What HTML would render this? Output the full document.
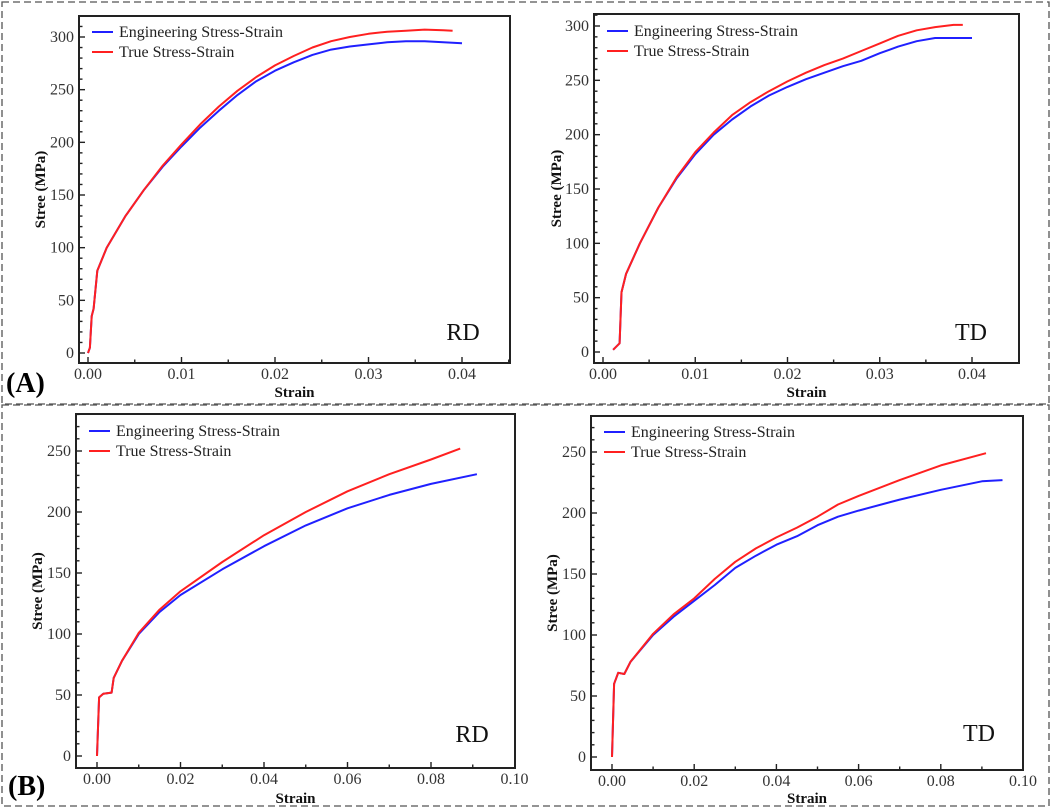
<!DOCTYPE html>
<html><head><meta charset="utf-8"><style>
html,body{margin:0;padding:0;background:#fff;}
svg{display:block;font-family:"Liberation Serif",serif;}
</style></head><body>
<svg id="fig" width="1052" height="809" viewBox="0 0 1052 809" xmlns="http://www.w3.org/2000/svg">
<rect x="2" y="2" width="1047" height="402" fill="none" stroke="#555" stroke-width="1.3" stroke-dasharray="7,4"/>
<rect x="2" y="405" width="1047" height="401" fill="none" stroke="#555" stroke-width="1.3" stroke-dasharray="7,4"/>
<text x="6" y="392" font-size="28" font-weight="bold">(A)</text>
<text x="8" y="795" font-size="28" font-weight="bold">(B)</text>
<g id="plots"></g>
</svg>
<script>
// Panel A-left (RD)
const aRdEngX = [0,0.0002,0.0004,0.0006,0.001,0.002,0.004,0.006,0.008,0.01,0.012,0.014,0.016,0.018,0.02,0.022,0.024,0.026,0.028,0.03,0.032,0.034,0.036,0.038,0.04];
const aRdEngY = [0,5,35,42,78,100,130,155,177,196,214,230,245,258,268,276,283,288,291,293,295,296,296,295,294];
const aRdTrueX = [0,0.0002,0.0004,0.0006,0.001,0.002,0.004,0.006,0.008,0.01,0.012,0.014,0.016,0.018,0.02,0.022,0.024,0.026,0.028,0.03,0.032,0.034,0.036,0.038,0.039];
const aRdTrueY = [0,5,35,42,78,100,130,155,178,198,217,234,249,262,273,282,290,296,300,303,305,306,307,306.5,306];
// Panel A-right (TD)
const aTdEngX = [0.0011,0.0018,0.002,0.0025,0.004,0.006,0.008,0.01,0.012,0.014,0.016,0.018,0.02,0.022,0.024,0.026,0.028,0.03,0.032,0.034,0.036,0.038,0.04];
const aTdEngY = [2,8,55,72,100,133,160,182,200,214,226,236,244,251,257,263,268,275,281,286,289,289,289];
const aTdTrueX = [0.0011,0.0018,0.002,0.0025,0.004,0.006,0.008,0.01,0.012,0.014,0.016,0.018,0.02,0.022,0.024,0.026,0.028,0.03,0.032,0.034,0.036,0.038,0.039];
const aTdTrueY = [2,8,55,72,100,133,161,184,202,218,230,240,249,257,264,270,277,284,291,296,299,301,301];
// Panel B-left (RD)
const bRdEngX = [0,0.0005,0.0015,0.0035,0.004,0.006,0.01,0.015,0.02,0.03,0.04,0.05,0.06,0.07,0.08,0.091];
const bRdEngY = [0,48,51,52,64,78,100,118,132,153,172,189,203,214,223,231];
const bRdTrueX = [0,0.0005,0.0015,0.0035,0.004,0.006,0.01,0.015,0.02,0.03,0.04,0.05,0.06,0.07,0.08,0.087];
const bRdTrueY = [0,48,51,52,64,78,101,120,135,159,181,200,217,231,243,252];
// Panel B-right (TD)
const bTdEngX = [0,0.0005,0.0015,0.003,0.0045,0.01,0.015,0.02,0.025,0.03,0.035,0.04,0.045,0.05,0.055,0.06,0.07,0.08,0.09,0.095];
const bTdEngY = [0,60,69,68,78,100,115,128,141,155,165,174,181,190,197,202,211,219,226,227];
const bTdTrueX = [0,0.0005,0.0015,0.003,0.0045,0.01,0.015,0.02,0.025,0.03,0.035,0.04,0.045,0.05,0.055,0.06,0.07,0.08,0.091];
const bTdTrueY = [0,60,69,68,78,101,117,130,146,160,171,180,188,197,207,214,227,239,249];
// Tick labels
const aXTicks = [0,0.01,0.02,0.03,0.04];
const aXTickLabels = ["0.00","0.01","0.02","0.03","0.04"];
const aYTicks = [0,50,100,150,200,250,300];
const bXTicksL = [0,0.02,0.04,0.06,0.08,0.1];
const bXTickLabelsL = ["0.00","0.02","0.04","0.06","0.08","0.10"];
const bYTicks = [0,50,100,150,200,250];

const NS="http://www.w3.org/2000/svg";
const root=document.getElementById('plots');
function mk(tag,attrs,parent){const e=document.createElementNS(NS,tag);for(const k in attrs)e.setAttribute(k,attrs[k]);(parent||root).appendChild(e);return e;}

const panels=[
 {id:'a-rd',box:[79,16,510,363],x0:[0,88],x1:[0.04,462],y0:[0,353],y1:[300,37],xt:aXTicks,xl:aXTickLabels,yt:aYTicks,xminor:0.005,yminor:10,
  eng:[aRdEngX,aRdEngY],tru:[aRdTrueX,aRdTrueY],tag:'RD',tagPos:[463,340],xTitleY:397,yTitleX:45,legY:32},
 {id:'a-td',box:[594,14,1019,363],x0:[0,603],x1:[0.04,972],y0:[0,352],y1:[300,26],xt:aXTicks,xl:aXTickLabels,yt:aYTicks,xminor:0.005,yminor:10,
  eng:[aTdEngX,aTdEngY],tru:[aTdTrueX,aTdTrueY],tag:'TD',tagPos:[971,340],xTitleY:397,yTitleX:561,legY:31},
 {id:'b-rd',box:[76,414,515,768],x0:[0,97],x1:[0.1,514.5],y0:[0,756],y1:[250,451],xt:bXTicksL,xl:bXTickLabelsL,yt:bYTicks,xminor:0.01,yminor:10,
  eng:[bRdEngX,bRdEngY],tru:[bRdTrueX,bRdTrueY],tag:'RD',tagPos:[472,742],xTitleY:803,yTitleX:42,legY:431},
 {id:'b-td',box:[591,416,1023,770],x0:[0,612],x1:[0.1,1023],y0:[0,757],y1:[250,452],xt:bXTicksL,xl:bXTickLabelsL,yt:bYTicks,xminor:0.01,yminor:10,
  eng:[bTdEngX,bTdEngY],tru:[bTdTrueX,bTdTrueY],tag:'TD',tagPos:[979,741],xTitleY:803,yTitleX:557,legY:432},
];

panels.forEach(p=>{
 const g=mk('g',{});
 
 
 const sx=v=>p.x0[1]+(v-p.x0[0])*(p.x1[1]-p.x0[1])/(p.x1[0]-p.x0[0]);
 const sy=v=>p.y0[1]+(v-p.y0[0])*(p.y1[1]-p.y0[1])/(p.y1[0]-p.y0[0]);
 const [L,T,R,B]=p.box;
 const frame=mk('rect',{x:L,y:T,width:R-L,height:B-T,fill:'none',stroke:'#222','stroke-width':2},g);
 
 
 const xmax=p.x1[0]+ (R-p.x1[1])/((p.x1[1]-p.x0[1])/(p.x1[0]-p.x0[0]));
 for(let v=0;v<=xmax+1e-9;v+=p.xminor){
   const x=sx(v); if(x>R-1) continue;
   const major=p.xt.some(t=>Math.abs(t-v)<1e-9);
   mk('line',{x1:x,x2:x,y1:B,y2:B-(major?6:3.5),stroke:'#222','stroke-width':1.4},g);
 }
 p.xt.forEach((v,i)=>{
   const t=mk('text',{x:sx(v),y:B+16,'font-size':16,fill:'#333','text-anchor':'middle'},g);
   t.textContent=p.xl[i];
   
   
 });
 const ymax=(sy(0)-T)/((sy(0)-sy(p.y1[0]))/p.y1[0]);
 for(let v=0;v<=ymax;v+=p.yminor){
   const y=sy(v);
   const major=p.yt.includes(v);
   mk('line',{x1:L,x2:L+(major?6:3.5),y1:y,y2:y,stroke:'#222','stroke-width':1.4},g);
 }
 p.yt.forEach(v=>{
   const t=mk('text',{x:L-5,y:sy(v)+5,'font-size':16,fill:'#333','text-anchor':'end'},g);
   t.textContent=String(v);
   
   
 });
 const xt=mk('text',{x:(L+R)/2,y:p.xTitleY,'font-size':15,'font-weight':'bold','text-anchor':'middle',fill:'#111'},g);
 xt.textContent='Strain';
 
 
 const cy=(T+B)/2;
 const yt=mk('text',{x:p.yTitleX,y:cy,'font-size':15,'font-weight':'bold','text-anchor':'middle',fill:'#111',transform:`rotate(-90 ${p.yTitleX} ${cy})`},g);
 yt.textContent='Stree (MPa)';
 
 
 const line=(xs,ys,color,name)=>{
   const d=xs.map((v,i)=>(i?'L':'M')+sx(v).toFixed(1)+','+sy(ys[i]).toFixed(1)).join(' ');
   const path=mk('path',{d:d,fill:'none',stroke:color,'stroke-width':2,'stroke-linejoin':'round'},g);
   
   
 };
 line(p.eng[0],p.eng[1],'#2020ff','engineering-stress-strain-line');
 line(p.tru[0],p.tru[1],'#ff2020','true-stress-strain-line');
 const lg=mk('g',{},g);
 
 
 [['Engineering Stress-Strain','#2020ff'],['True Stress-Strain','#ff2020']].forEach((e,i)=>{
   const y=p.legY+i*20;
   mk('line',{x1:L+13,x2:L+34,y1:y,y2:y,stroke:e[1],'stroke-width':2},lg);
   const t=mk('text',{x:L+40,y:y+5,'font-size':16,fill:'#222'},lg);
   t.textContent=e[0];
   
   
 });
 const tag=mk('text',{x:p.tagPos[0],y:p.tagPos[1],'font-size':24,'text-anchor':'middle',fill:'#111'},g);
 tag.textContent=p.tag;
 
 
});
</script>
</body></html>
